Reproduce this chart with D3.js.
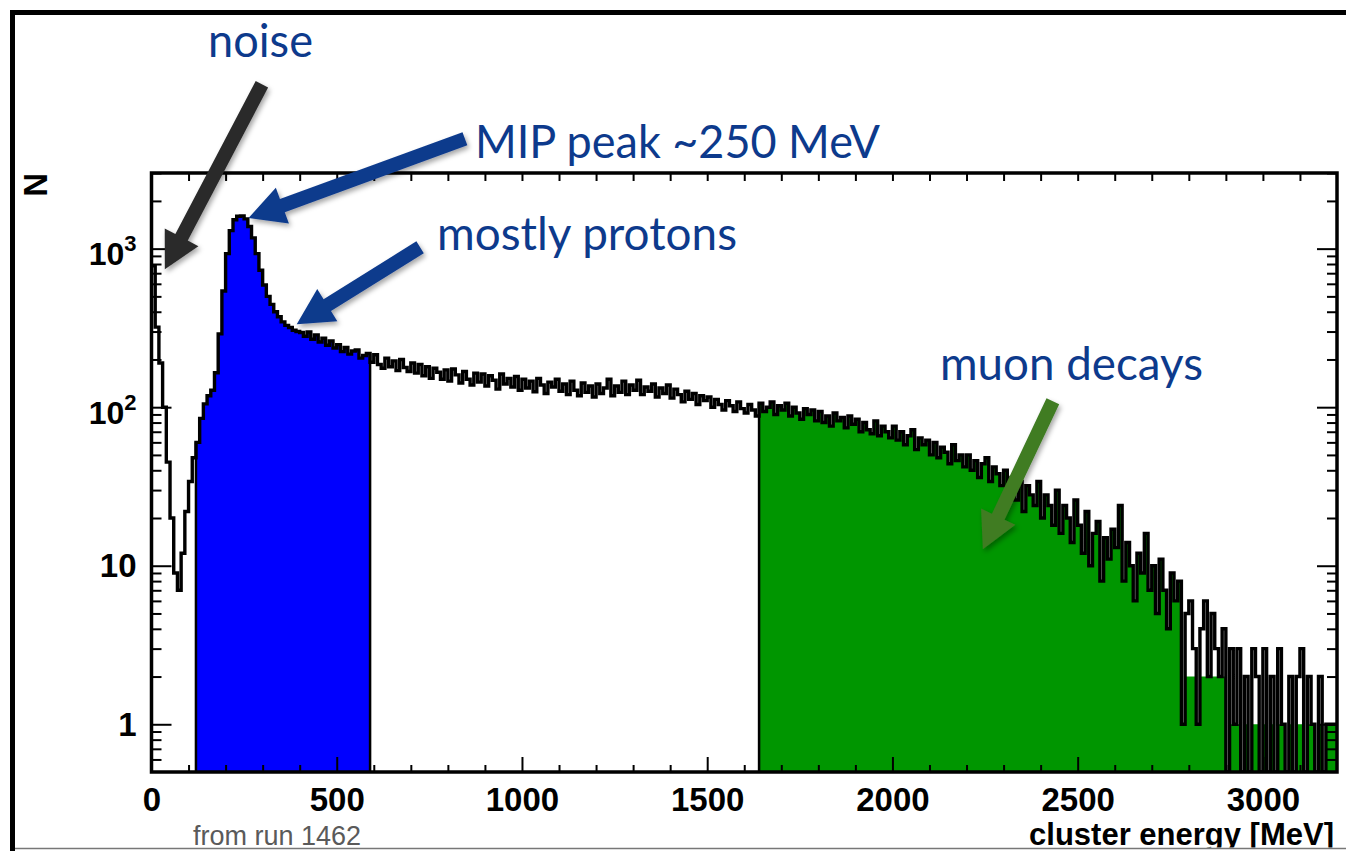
<!DOCTYPE html>
<html><head><meta charset="utf-8">
<script src="https://cdn.jsdelivr.net/npm/d3@7"></script>
<style>
html,body{margin:0;padding:0;background:#fff;overflow:hidden}
</style></head><body>
<svg id="chart" width="1346" height="851"></svg>
<script>
// ---------------- DATA ----------------
const binWidth = 10;                 // MeV per bin
const energyDomain = [0, 3200];      // cluster energy [MeV]
const countDomain = [0.5, 3000];     // N (log)

// counts per 10 MeV bin, from 0 to 3200 MeV (320 bins)
const counts = [
  780, 320, 190, 100, 45, 20, 9, 7, 12, 22,
  34, 48, 60, 85, 105, 118, 128, 165, 290, 540,
  930, 1300, 1520, 1600, 1610, 1540, 1380, 1170, 930, 730,
  590, 500, 445, 400, 372, 345, 328, 318, 306, 300,
  296, 280, 298, 268, 286, 258, 272, 246, 262, 236,
  248, 224, 238, 216, 226, 230, 204, 212, 218, 192,
  214, 186, 176, 204, 180, 196, 170, 200, 178, 168,
  190, 164, 186, 158, 180, 152, 176, 166, 150, 172,
  146, 174, 160, 142, 168, 150, 138, 164, 144, 162,
  136, 158, 148, 130, 162, 140, 152, 134, 156, 128,
  150, 132, 146, 125, 152, 138, 122, 144, 134, 150,
  126, 140, 120, 146, 128, 118, 142, 124, 136, 116,
  140, 122, 132, 150, 118, 136, 124, 146, 120, 138,
  128, 148, 120, 134, 126, 140, 116, 132, 122, 138,
  114, 130, 120, 108, 126, 112, 122, 104, 118, 110,
  116, 100, 112, 104, 96, 110, 102, 94, 108, 98,
  92, 104, 96, 88, 106, 94, 100, 108, 90, 102,
  96, 106, 88, 100, 92, 84, 98, 90, 96, 82,
  94, 80, 88, 76, 92, 82, 86, 74, 88, 78,
  84, 70, 80, 72, 68, 82, 66, 76, 70, 64,
  76, 62, 70, 58, 66, 72, 54, 64, 58, 62,
  50, 60, 48, 56, 52, 44, 58, 46, 50, 42,
  50, 40, 46, 36, 44, 48, 34, 42, 38, 32,
  40, 30, 36, 26, 34, 22, 32, 28, 24, 34,
  20, 28, 24, 18, 30, 16, 24, 20, 14, 26,
  18, 12, 22, 10, 16, 19, 8, 15, 11, 17,
  13, 24, 8, 14, 10, 6, 12, 9, 16, 7,
  10, 5, 11, 7, 4, 9, 6, 8, 1, 5,
  6, 3, 1, 4, 6, 2, 5, 3, 2, 4,
  0, 3, 1, 3, 0, 2, 0, 3, 2, 0,
  3, 0, 2, 0, 3, 1, 0, 2, 0, 2,
  3, 0, 2, 1, 0, 2, 0, 1, 1, 1
];

// filled selections
const blueRange = [120, 590];        // MIP region (blue fill)
const greenRange = [1640, 3200];     // muon decays (green fill)
const greenTailStart = 2780;         // from here the green fill uses its own counts
const greenTail = [
  1, 2, 2, 2, 1, 2, 2, 2, 2, 2, 2, 2,
  0, 1, 1, 1, 0, 1, 0, 1, 1, 0,
  1, 0, 1, 0, 1, 1, 0, 1, 0, 1,
  1, 0, 1, 1, 0, 1, 0, 1, 1, 1
];

// ticks
const xMajorTicks = [0, 500, 1000, 1500, 2000, 2500, 3000];
const xMinorTicks = [100,200,300,400,600,700,800,900,1100,1200,1300,1400,1600,1700,1800,1900,2100,2200,2300,2400,2600,2700,2800,2900,3100];
const yMajorTicks = [1, 10, 100, 1000];
const yMajorLabels = [["1",""], ["10",""], ["10","2"], ["10","3"]];
const yMinorTicks = [0.6,0.7,0.8,0.9,2,3,4,5,6,7,8,9,20,30,40,50,60,70,80,90,200,300,400,500,600,700,800,900,2000,3000];

// annotations (arrow tail -> tip, in data coordinates)
const annotations = [
  {text:"noise",             tx:208, ty:57,  tw:105, color:"#2b2b2b", tail:[298,10900], tip:[36,742]},
  {text:"MIP peak ~250 MeV", tx:475, ty:158, tw:405, color:"#0d3a8c", tail:[846,4930],  tip:[262,1560]},
  {text:"mostly protons",    tx:437, ty:250, tw:300, color:"#0d3a8c", tail:[725,1020],  tip:[392,334]},
  {text:"muon decays",       tx:940, ty:380, tw:263, color:"#3f7b24", tail:[2433,109],  tip:[2244,12.7]}
];

// ---------------- CHART ----------------
const svg = d3.select("#chart");
const W = 1346, H = 851;
const plot = {left:151.5, right:1337, top:173, bottom:772};

const x = d3.scaleLinear().domain(energyDomain).range([plot.left, plot.right]);
const y = d3.scaleLog().domain(countDomain).range([plot.bottom, plot.top]);
const yv = c => y(Math.max(c, countDomain[0]));

const defs = svg.append("defs");
defs.append("clipPath").attr("id","plotclip").append("rect")
  .attr("x",plot.left).attr("y",plot.top).attr("width",plot.right-plot.left).attr("height",plot.bottom-plot.top);
defs.append("clipPath").attr("id","pageclip").append("rect")
  .attr("x",0).attr("y",0).attr("width",W).attr("height",847.5);
const sh = defs.append("filter").attr("id","shadow").attr("x","-30%").attr("y","-30%").attr("width","160%").attr("height","160%");
sh.append("feDropShadow").attr("dx",2).attr("dy",3).attr("stdDeviation",2.5).attr("flood-color","#000").attr("flood-opacity",0.35);

svg.append("rect").attr("width",W).attr("height",H).attr("fill","#fff");
const page = svg.append("g").attr("clip-path","url(#pageclip)");

// bins
const bins = counts.map((c,i)=>({e:i*binWidth, c}));
const withEnd = arr => arr.concat([{e: arr[arr.length-1].e + binWidth, c: arr[arr.length-1].c}]);

const area = d3.area().curve(d3.curveStepAfter)
  .x(d=>x(d.e)).y0(y.range()[0]).y1(d=>yv(d.c));
const line = d3.line().curve(d3.curveStepAfter)
  .x(d=>x(d.e)).y(d=>yv(d.c));

const hg = page.append("g").attr("clip-path","url(#plotclip)");

const blueBins = bins.filter(b=>b.e>=blueRange[0] && b.e<blueRange[1]);
const greenBins = bins.filter(b=>b.e>=greenRange[0] && b.e<greenRange[1])
  .map(b=> b.e < greenTailStart ? b : {e:b.e, c: greenTail[(b.e-greenTailStart)/binWidth]});

hg.append("path").attr("d",area(withEnd(blueBins))).attr("fill","#0000ff");
hg.append("path").attr("d",area(withEnd(greenBins))).attr("fill","#009600");

// fill edges
const edges = [
  {e:blueRange[0], c:blueBins[0].c},
  {e:blueRange[1], c:blueBins[blueBins.length-1].c},
  {e:greenRange[0], c:greenBins[0].c}
];
hg.selectAll("line.edge").data(edges).join("line").attr("class","edge")
  .attr("x1",d=>x(d.e)).attr("x2",d=>x(d.e))
  .attr("y1",y.range()[0]).attr("y2",d=>yv(d.c))
  .attr("stroke","#000").attr("stroke-width",2.5);

// main histogram line
hg.append("path").attr("d",line(withEnd(bins)))
  .attr("fill","none").attr("stroke","#000").attr("stroke-width",3.4).attr("stroke-linejoin","miter");

// frame
page.append("rect").attr("x",plot.left).attr("y",plot.top)
  .attr("width",plot.right-plot.left).attr("height",plot.bottom-plot.top)
  .attr("fill","none").attr("stroke","#000").attr("stroke-width",3.5);

// axes
function styleAxis(g){ g.select(".domain").remove(); g.selectAll(".tick line").attr("stroke","#000").attr("stroke-width",2); }
const font = "'Liberation Sans', Arial, Helvetica, sans-serif";

page.append("g").attr("transform",`translate(0,${plot.bottom})`)
  .call(d3.axisBottom(x).tickValues(xMinorTicks).tickSize(-7).tickFormat("")).call(styleAxis);
const xb = page.append("g").attr("transform",`translate(0,${plot.bottom})`)
  .call(d3.axisBottom(x).tickValues(xMajorTicks).tickSize(-15).tickPadding(16).tickFormat(d3.format("d"))).call(styleAxis);
xb.selectAll("text").attr("font-family",font).attr("font-weight","bold").attr("font-size",33).attr("fill","#000");

page.append("g").attr("transform",`translate(0,${plot.top})`)
  .call(d3.axisTop(x).tickValues(xMajorTicks.concat(xMinorTicks)).tickSize(-8).tickFormat("")).call(styleAxis);

page.append("g").attr("transform",`translate(${plot.left},0)`)
  .call(d3.axisLeft(y).tickValues(yMinorTicks).tickSize(-10).tickFormat("")).call(styleAxis);
const yl = page.append("g").attr("transform",`translate(${plot.left},0)`)
  .call(d3.axisLeft(y).tickValues(yMajorTicks).tickSize(-20).tickPadding(15).tickFormat("")).call(styleAxis);
yl.selectAll(".tick text").each(function(d,i){
  const lab = yMajorLabels[i];
  const t = d3.select(this).attr("font-family",font).attr("font-weight","bold").attr("fill","#000").text("");
  if(lab[1]===""){
    t.attr("font-size",33).attr("dy","0.33em").text(lab[0]);
  } else {
    t.attr("font-size",32).attr("dy","0.5em");
    t.append("tspan").text(lab[0]);
    t.append("tspan").attr("font-size",22).attr("dy",-14).text(lab[1]);
  }
});

page.append("g").attr("transform",`translate(${plot.right},0)`)
  .call(d3.axisRight(y).tickValues(yMinorTicks).tickSize(-10).tickFormat("")).call(styleAxis);
page.append("g").attr("transform",`translate(${plot.right},0)`)
  .call(d3.axisRight(y).tickValues(yMajorTicks).tickSize(-20).tickFormat("")).call(styleAxis);

// axis titles
page.append("text").attr("transform",`translate(47,${plot.top}) rotate(-90)`)
  .attr("text-anchor","end").attr("font-family",font).attr("font-weight","bold").attr("font-size",33)
  .text("N");
page.append("text").attr("x",plot.right-3).attr("y",845).attr("text-anchor","end")
  .attr("font-family",font).attr("font-weight","bold").attr("font-size",31)
  .text("cluster energy [MeV]");
svg.append("text").attr("x",193).attr("y",845)
  .attr("font-family",font).attr("font-size",27).attr("fill","#5a5a5a")
  .text("from run 1462");

// annotations
function arrowPoly(x1,y1,x2,y2,sw,hw,hl){
  const dx=x2-x1, dy=y2-y1, L=Math.hypot(dx,dy), ux=dx/L, uy=dy/L, px=-uy, py=ux;
  const bx=x2-ux*hl, by=y2-uy*hl;
  return [[x1+px*sw/2,y1+py*sw/2],[bx+px*sw/2,by+py*sw/2],[bx+px*hw/2,by+py*hw/2],[x2,y2],
          [bx-px*hw/2,by-py*hw/2],[bx-px*sw/2,by-py*sw/2],[x1-px*sw/2,y1-py*sw/2]];
}
const ag = svg.append("g");
annotations.forEach(a=>{
  const p = arrowPoly(x(a.tail[0]),y(a.tail[1]),x(a.tip[0]),y(a.tip[1]),14,38,36);
  ag.append("polygon").attr("points",p.map(q=>q.join(",")).join(" "))
    .attr("fill",a.color).attr("filter","url(#shadow)");
  ag.append("text").attr("x",a.tx).attr("y",a.ty)
    .attr("font-family","Lato, 'Open Sans', sans-serif").attr("font-size",47)
    .attr("fill","#0d3a8c")
    .attr("textLength",a.tw).attr("lengthAdjust","spacingAndGlyphs")
    .text(a.text);
});

// outer frame
svg.append("line").attr("x1",12.5).attr("x2",12.5).attr("y1",10).attr("y2",H).attr("stroke","#000").attr("stroke-width",5);
svg.append("line").attr("x1",10).attr("x2",W).attr("y1",12.5).attr("y2",12.5).attr("stroke","#000").attr("stroke-width",5);
svg.append("line").attr("x1",15).attr("x2",W).attr("y1",848.5).attr("y2",848.5).attr("stroke","#777").attr("stroke-width",1.5);
</script>
</body></html>
